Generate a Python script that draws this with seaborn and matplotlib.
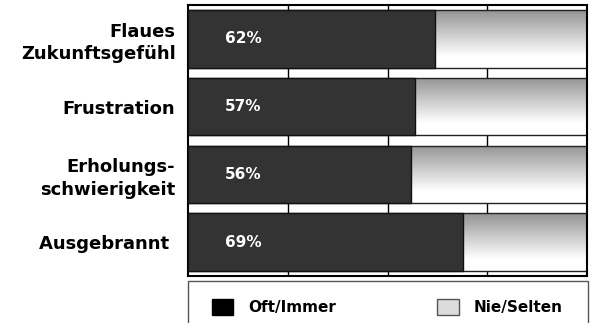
import numpy as np
import pandas as pd
import matplotlib
matplotlib.use('Agg')
import matplotlib.pyplot as plt
import seaborn as sns
from matplotlib.patches import Rectangle, Patch
from matplotlib.transforms import blended_transform_factory

# data
categories = ['Flaues\nZukunftsgefühl', 'Frustration', 'Erholungs-\nschwierigkeit', 'Ausgebrannt ']
oft_immer = [62, 57, 56, 69]
nie_selten = [38, 43, 44, 31]
pct_labels = ['62%', '57%', '56%', '69%']
legend_labels = ['Oft/Immer', 'Nie/Selten']

df = pd.DataFrame({'Kategorie': categories, 'Oft': oft_immer, 'Nie': nie_selten})
df['Gesamt'] = df['Oft'] + df['Nie']

sns.set_style('white')
plt.rcParams['font.family'] = ['DejaVu Sans']
plt.rcParams['font.weight'] = 'bold'
plt.rcParams['text.color'] = 'black'
plt.rcParams['ytick.color'] = 'black'
plt.rcParams['xtick.color'] = 'black'

fig = plt.figure(figsize=(5.92, 3.23), dpi=100)
ax = fig.add_axes([188 / 592, 1 - 276 / 323, 399 / 592, 271 / 323])

# full-width bars (Nie/Selten part shows behind the dark bars)
sns.barplot(data=df, x='Gesamt', y='Kategorie', orient='h', color='white',
            saturation=1, width=0.85, edgecolor='#222222', linewidth=1, ax=ax)
bg_bars = list(ax.patches)

# vertical grey-to-white gradient inside each background bar
grad = np.concatenate([np.linspace(0.58, 1.0, 80), np.ones(20)]).reshape(-1, 1)
for p in bg_bars:
    x0, y0, w, h = p.get_x(), p.get_y(), p.get_width(), p.get_height()
    im = ax.imshow(grad, cmap='gray', vmin=0, vmax=1, aspect='auto',
                   extent=(x0, x0 + w, y0 + h, y0), zorder=1.5,
                   interpolation='bilinear')
    im.set_clip_path(p)
    p.set_facecolor('none')
    p.set_zorder(2.5)

# dark Oft/Immer bars
sns.barplot(data=df, x='Oft', y='Kategorie', orient='h', color='#333333',
            saturation=1, width=0.85, edgecolor='#111111', linewidth=1,
            ax=ax, zorder=3)

ax.set_xlim(0, 100)
ax.set_ylim(3.5, -0.5)

# percentage labels in the dark bars
trans = blended_transform_factory(ax.transAxes, ax.transData)
for i, lab in enumerate(pct_labels):
    ax.text(0.093, i, lab, transform=trans, color='white', fontsize=11,
            fontweight='bold', va='center', ha='left', zorder=4)

ax.set_xticks([25, 50, 75])
ax.set_xticklabels([])
ax.xaxis.grid(True, color='black', linewidth=1)
ax.set_axisbelow(True)
ax.tick_params(axis='both', length=0)
ax.tick_params(axis='y', pad=9, labelsize=13, labelcolor='black')
for t in ax.get_yticklabels():
    t.set_fontweight('bold')
    t.set_linespacing(1.3)
ax.set_xlabel('')
ax.set_ylabel('')
for s in ax.spines.values():
    s.set_color('black')
    s.set_linewidth(1.5)

# legend box below the plot
fig.add_artist(Rectangle((188 / 592, -0.1), 400 / 592, 0.1 + (1 - 281 / 323),
                         transform=fig.transFigure, facecolor='none',
                         edgecolor='#555555', linewidth=1))
handles = [Patch(facecolor='black', edgecolor='black'),
           Patch(facecolor='#dcdcdc', edgecolor='#555555')]
fig.legend(handles, legend_labels, loc='center left',
           bbox_to_anchor=(212 / 592, 1 - 307 / 323), ncol=2, frameon=False,
           handlelength=1.4, handleheight=1.25, handletextpad=1.0,
           columnspacing=6.6, borderpad=0, borderaxespad=0,
           prop={'weight': 'bold', 'size': 11}, labelcolor='black')

fig.savefig('out.png', dpi=100)
